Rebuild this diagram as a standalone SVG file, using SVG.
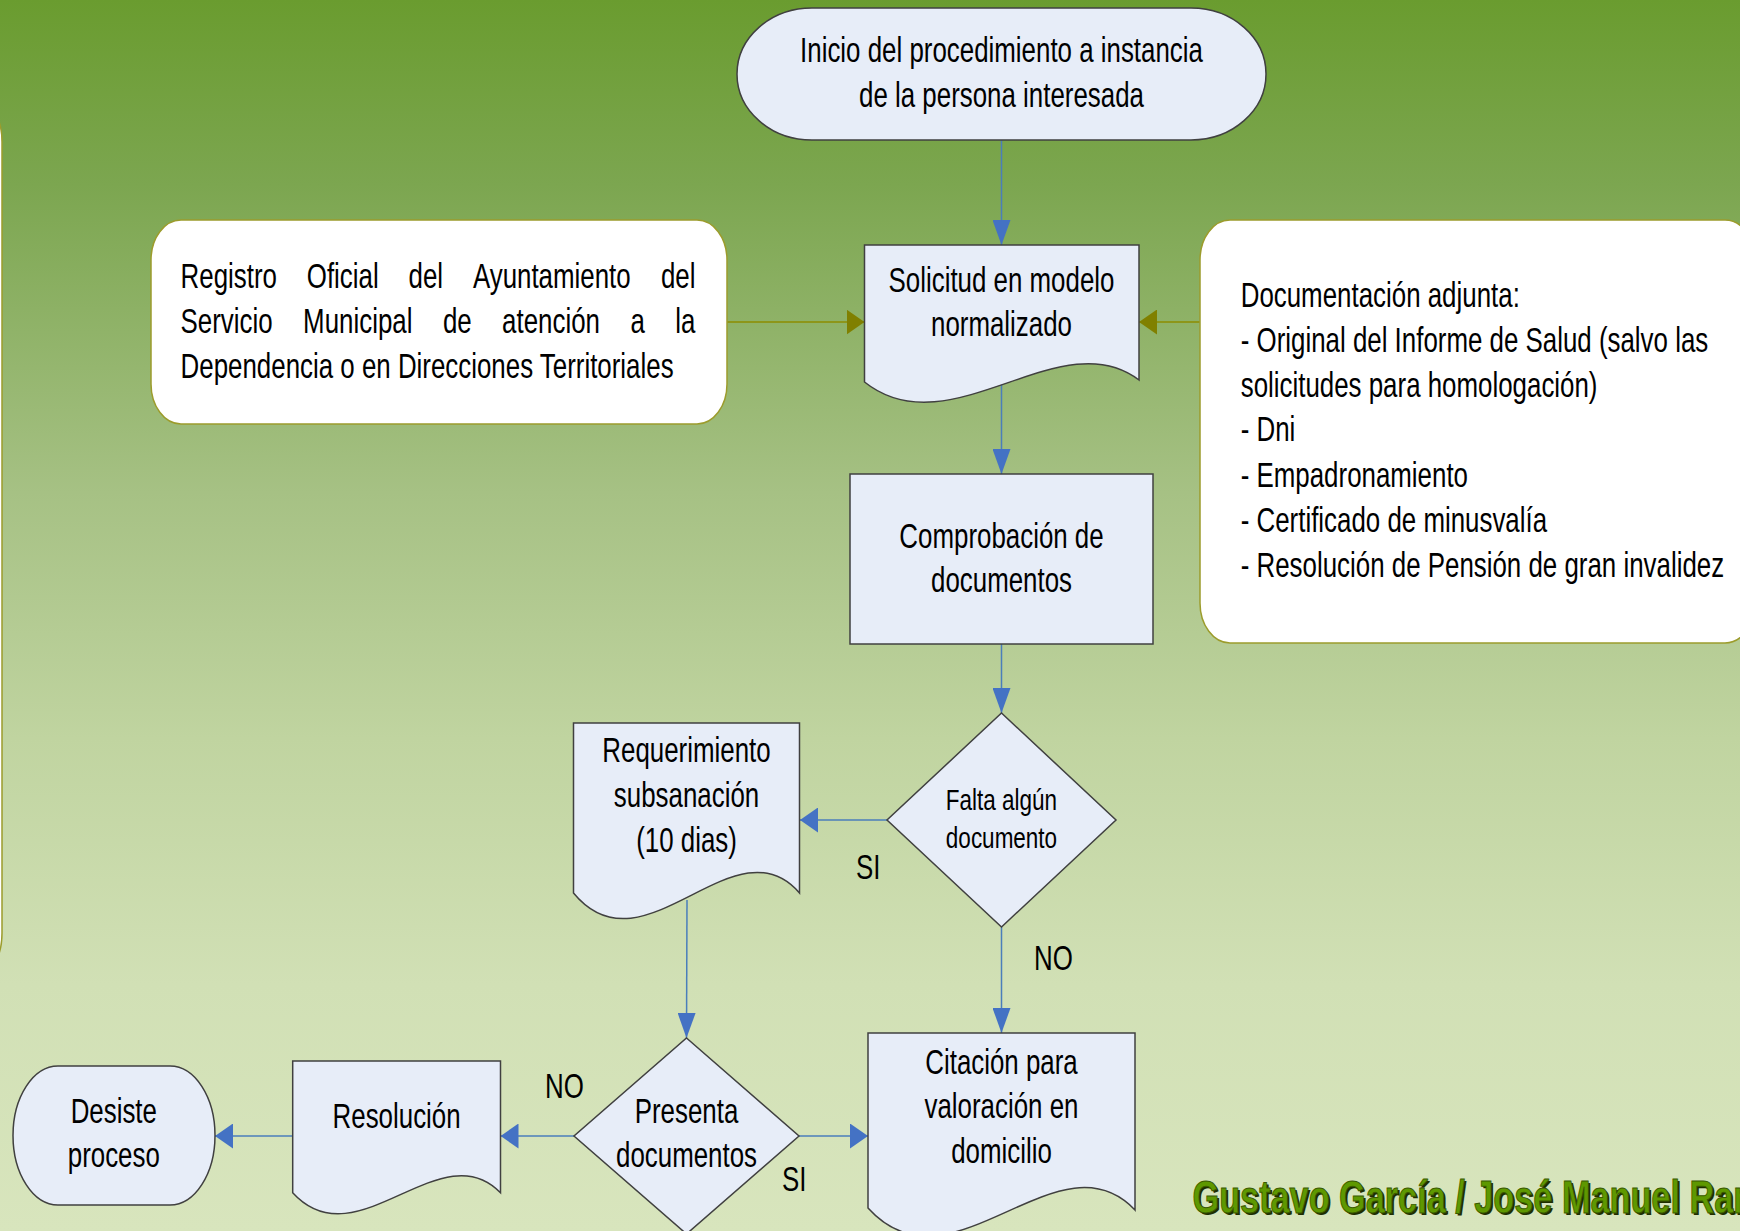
<svg xmlns="http://www.w3.org/2000/svg" width="1740" height="1231" viewBox="0 0 1740 1231">
<defs>
<linearGradient id="bg" x1="0" y1="0" x2="0" y2="1">
<stop offset="0" stop-color="#6a9c2f"/>
<stop offset="0.15" stop-color="#7ca650"/>
<stop offset="0.4" stop-color="#a6c184"/>
<stop offset="0.6" stop-color="#c0d4a0"/>
<stop offset="0.8" stop-color="#d1e0b5"/>
<stop offset="1" stop-color="#d8e5bd"/>
</linearGradient>
<marker id="av" markerUnits="userSpaceOnUse" markerWidth="25" markerHeight="18" refX="25" refY="9" orient="auto"><path d="M0,0 L25,9 L0,18 z" fill="#4472c4"/></marker>
<marker id="ah" markerUnits="userSpaceOnUse" markerWidth="18" markerHeight="25" refX="18" refY="12.5" orient="auto"><path d="M0,0 L18,12.5 L0,25 z" fill="#4472c4"/></marker>
<marker id="ao" markerUnits="userSpaceOnUse" markerWidth="18" markerHeight="25" refX="18" refY="12.5" orient="auto"><path d="M0,0 L18,12.5 L0,25 z" fill="#808000"/></marker>
</defs>
<style>
.t{font-family:"Liberation Sans",Arial,sans-serif;font-size:35px;fill:#000}
.s{font-family:"Liberation Sans",Arial,sans-serif;font-size:30px;fill:#000}
.c{text-anchor:middle}
.e{text-anchor:end}
.n{fill:#e7edf8;stroke:#404040;stroke-width:1.5}
.w{fill:#fff;stroke:#9c9c2c;stroke-width:1.5}
.bl{fill:none;stroke:#4a7ebb;stroke-width:1.5}
.ol{fill:none;stroke:#8c8c00;stroke-width:1.5}
.cr{font-family:"Liberation Sans",Arial,sans-serif;font-size:46px;font-weight:bold}
</style>
<rect x="0" y="0" width="1740" height="1231" fill="url(#bg)"/>

<g id="connectors">
<line class="bl" x1="1001.5" y1="140" x2="1001.5" y2="245" marker-end="url(#av)"/>
<line class="bl" x1="1001.5" y1="380" x2="1001.5" y2="474" marker-end="url(#av)"/>
<line class="bl" x1="1001.5" y1="644" x2="1001.5" y2="713" marker-end="url(#av)"/>
<line class="bl" x1="887" y1="820" x2="800" y2="820" marker-end="url(#ah)"/>
<line class="bl" x1="1001.5" y1="927" x2="1001.5" y2="1033" marker-end="url(#av)"/>
<line class="bl" x1="687" y1="900" x2="686.5" y2="1038" marker-end="url(#av)"/>
<line class="bl" x1="799" y1="1136" x2="868" y2="1136" marker-end="url(#ah)"/>
<line class="bl" x1="574" y1="1136" x2="500.5" y2="1136" marker-end="url(#ah)"/>
<line class="bl" x1="293" y1="1136" x2="215" y2="1136" marker-end="url(#ah)"/>
<line class="ol" x1="727" y1="322" x2="864.5" y2="322" marker-end="url(#ao)"/>
<line class="ol" x1="1200" y1="322" x2="1139" y2="322" marker-end="url(#ao)"/>
</g>

<g id="edge-box">
<rect class="w" x="-40" y="102" width="42" height="871" rx="30" ry="40"/>
</g>

<g id="inicio">
<rect class="n" x="737" y="8" width="529" height="132" rx="75" ry="66"/>
<text class="t c" transform="translate(1001.5,0) scale(0.74,1)" y="62">Inicio del procedimiento a instancia</text>
<text class="t c" transform="translate(1001.5,0) scale(0.74,1)" y="107">de la persona interesada</text>
</g>

<g id="registro">
<rect class="w" x="151" y="220" width="576" height="204" rx="30" ry="40"/>
<text class="t" transform="translate(180.6,0) scale(0.74,1)" y="288">Registro</text>
<text class="t" transform="translate(306.8,0) scale(0.74,1)" y="288">Oficial</text>
<text class="t" transform="translate(408.5,0) scale(0.74,1)" y="288">del</text>
<text class="t" transform="translate(472.9,0) scale(0.74,1)" y="288">Ayuntamiento</text>
<text class="t e" transform="translate(695.5,0) scale(0.74,1)" y="288">del</text>
<text class="t" transform="translate(180.6,0) scale(0.74,1)" y="333">Servicio</text>
<text class="t" transform="translate(303.1,0) scale(0.74,1)" y="333">Municipal</text>
<text class="t" transform="translate(442.9,0) scale(0.74,1)" y="333">de</text>
<text class="t" transform="translate(502.1,0) scale(0.74,1)" y="333">atención</text>
<text class="t" transform="translate(630.4,0) scale(0.74,1)" y="333">a</text>
<text class="t e" transform="translate(695.5,0) scale(0.74,1)" y="333">la</text>
<text class="t" transform="translate(180.6,0) scale(0.74,1)" y="378">Dependencia o en Direcciones Territoriales</text>
</g>

<g id="documentacion">
<rect class="w" x="1200" y="220" width="555" height="423" rx="30" ry="40"/>
<text class="t" transform="translate(1240.7,0) scale(0.74,1)" y="307">Documentación adjunta:</text>
<text class="t" transform="translate(1240.7,0) scale(0.74,1)" y="352">- Original del Informe de Salud (salvo las</text>
<text class="t" transform="translate(1240.7,0) scale(0.74,1)" y="397">solicitudes para homologación)</text>
<text class="t" transform="translate(1240.7,0) scale(0.74,1)" y="441">- Dni</text>
<text class="t" transform="translate(1240.7,0) scale(0.74,1)" y="487">- Empadronamiento</text>
<text class="t" transform="translate(1240.7,0) scale(0.74,1)" y="532">- Certificado de minusvalía</text>
<text class="t" transform="translate(1240.7,0) scale(0.74,1)" y="577">- Resolución de Pensión de gran invalidez</text>
</g>

<g id="solicitud">
<path class="n" d="M864.5,245 H1139 V380 C1060,320 950,450 864.5,382 Z"/>
<text class="t c" transform="translate(1001.5,0) scale(0.74,1)" y="292">Solicitud en modelo</text>
<text class="t c" transform="translate(1001.5,0) scale(0.74,1)" y="336">normalizado</text>
</g>

<g id="comprobacion">
<rect class="n" x="850" y="474" width="303" height="170"/>
<text class="t c" transform="translate(1001.5,0) scale(0.74,1)" y="548">Comprobación de</text>
<text class="t c" transform="translate(1001.5,0) scale(0.74,1)" y="592">documentos</text>
</g>

<g id="falta">
<polygon class="n" points="1001.5,713 1116,820 1001.5,927 887,820"/>
<text class="s c" transform="translate(1001.5,0) scale(0.75,1)" y="810">Falta algún</text>
<text class="s c" transform="translate(1001.5,0) scale(0.75,1)" y="848">documento</text>
</g>

<g id="requerimiento">
<path class="n" d="M573.5,723 H799.5 V893 C734.5,818 643.5,978 573.5,893 Z"/>
<text class="t c" transform="translate(686.5,0) scale(0.74,1)" y="762">Requerimiento</text>
<text class="t c" transform="translate(686.5,0) scale(0.74,1)" y="807">subsanación</text>
<text class="t c" transform="translate(686.5,0) scale(0.74,1)" y="852">(10 dias)</text>
</g>

<g id="citacion">
<path class="n" d="M868,1033 H1135 V1210 C1058,1129 951,1300 868,1208 Z"/>
<text class="t c" transform="translate(1001.5,0) scale(0.74,1)" y="1074">Citación para</text>
<text class="t c" transform="translate(1001.5,0) scale(0.74,1)" y="1118">valoración en</text>
<text class="t c" transform="translate(1001.5,0) scale(0.74,1)" y="1163">domicilio</text>
</g>

<g id="presenta">
<polygon class="n" points="686.5,1038 799,1136 686.5,1234 574,1136"/>
<text class="t c" transform="translate(686.5,0) scale(0.74,1)" y="1123">Presenta</text>
<text class="t c" transform="translate(686.5,0) scale(0.74,1)" y="1167">documentos</text>
</g>

<g id="resolucion">
<path class="n" d="M292.7,1061 H500.5 V1192.7 C440.5,1130.7 356.7,1262.7 292.7,1192.7 Z"/>
<text class="t c" transform="translate(396.6,0) scale(0.74,1)" y="1128">Resolución</text>
</g>

<g id="desiste">
<rect class="n" x="13" y="1066" width="202" height="139" rx="45" ry="69.5"/>
<text class="t c" transform="translate(113.8,0) scale(0.74,1)" y="1123">Desiste</text>
<text class="t c" transform="translate(113.8,0) scale(0.74,1)" y="1167">proceso</text>
</g>

<g id="labels">
<text class="t" transform="translate(856,0) scale(0.74,1)" y="879">SI</text>
<text class="t" transform="translate(1034,0) scale(0.74,1)" y="970">NO</text>
<text class="t" transform="translate(782,0) scale(0.74,1)" y="1191">SI</text>
<text class="t" transform="translate(545,0) scale(0.74,1)" y="1098">NO</text>
</g>

<g id="credit">
<text class="cr" transform="translate(1194.5,0) scale(0.745,1)" y="1215" fill="#1f2e00">Gustavo García / José Manuel Ram</text>
<text class="cr" transform="translate(1192.5,0) scale(0.745,1)" y="1213" fill="#5e9800" stroke="#3a5a00" stroke-width="1">Gustavo García / José Manuel Ram</text>
</g>
</svg>
